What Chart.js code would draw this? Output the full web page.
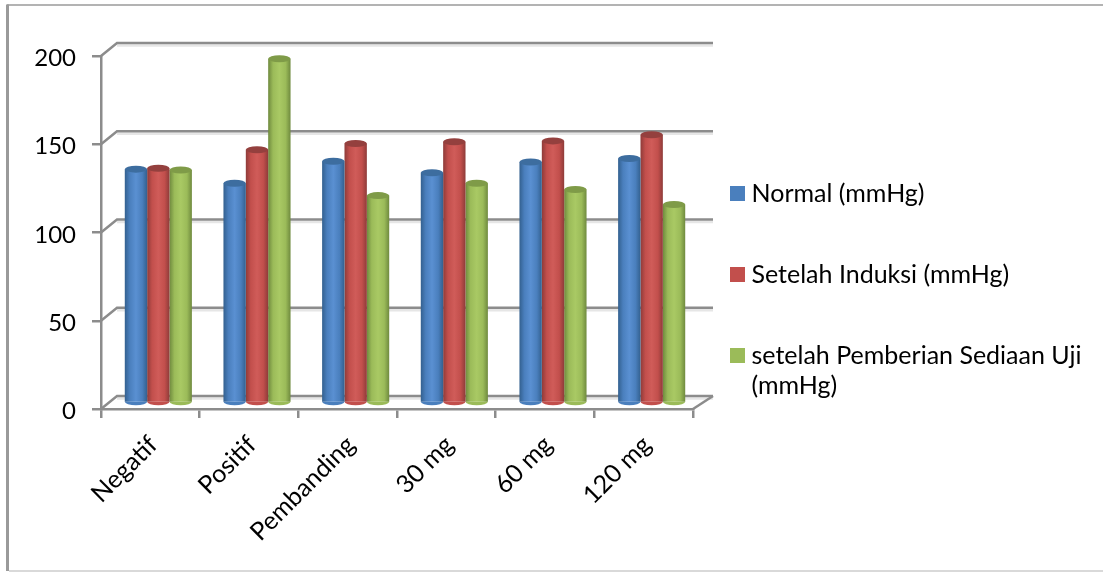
<!DOCTYPE html>
<html>
<head>
<meta charset="utf-8">
<style>
  html, body { margin: 0; padding: 0; background: #fff; }
  canvas { display: block; }
</style>
<script src="https://cdn.jsdelivr.net/npm/chart.js@4"></script>
</head>
<body>
<canvas id="js--chart" width="1103" height="572"></canvas>
<script>
/* data */
const labels = ["Negatif", "Positif", "Pembanding", "30 mg", "60 mg", "120 mg"];
const normal = [132.5, 124.5, 137, 130.5, 136.5, 138.5];
const induksi = [133, 143.5, 147, 148, 148.5, 152];
const sediaan = [132, 195, 117.5, 124.5, 121, 112.5];
const yTicks = [0, 50, 100, 150, 200];

/* kleuren: rand, midden, licht, kap */
const blue = ["#33608f", "#4a7fbd", "#5a90d2", "#3d6d9f"];
const red = ["#8e3b39", "#c24f4c", "#d05c59", "#94403e"];
const green = ["#6f8a3e", "#9bbb59", "#a9c964", "#7f9b48"];
const colors = [blue, red, green];

const barShare = 0.68;
const axisColor = "#8c8c8c";
const fontName = "Lato, 'Noto Sans', sans-serif";

// cilinder gradient per bar
function barFill(c) {
    const chart = c.chart;
    const x = chart.scales.x;
    if (!x || c.dataIndex === undefined) return colors[c.datasetIndex][1];
    const w = (x.width / labels.length) * barShare / 3;
    const mid = x.getPixelForValue(c.dataIndex) + (c.datasetIndex - 1) * w;
    const g = chart.ctx.createLinearGradient(mid - w / 2, 0, mid + w / 2, 0);
    const set = colors[c.datasetIndex];
    g.addColorStop(0, set[0]);
    g.addColorStop(0.22, set[1]);
    g.addColorStop(0.5, set[2]);
    g.addColorStop(0.78, set[1]);
    g.addColorStop(1, set[0]);
    return g;
}

/* achterwand en 3d-diepte */
const wallDepth = { x: 16, y: -13 };
const barDepth = { x: 8, y: -6 };

const wallPlugin = {
    id: "wall",
    beforeLayout(chart) {
        const legend = chart.legend;
        if (legend && !legend.fixedFit) {
            const fit = legend.fit;
            legend.fit = function () {
                fit.call(this);
                this.width = 410;
            };
            legend.fixedFit = true;
        }
    },
    afterLayout(chart) {
        chart.legend.left = 680;
        chart.legend.top = 12;
    },
    beforeDraw(chart) {
        const ctx = chart.ctx;
        ctx.save();
        ctx.strokeStyle = "#9a9a9a";
        ctx.lineWidth = 1.5;
        ctx.beginPath();
        ctx.moveTo(chart.width, 5);
        ctx.lineTo(7, 5);
        ctx.stroke();
        ctx.lineWidth = 3;
        ctx.beginPath();
        ctx.moveTo(7.5, 4.5);
        ctx.lineTo(7.5, 571);
        ctx.stroke();
        ctx.strokeStyle = "#cccccc";
        ctx.lineWidth = 1.5;
        ctx.beginPath();
        ctx.moveTo(9, 571);
        ctx.lineTo(chart.width, 571);
        ctx.stroke();
        ctx.restore();
    },
    beforeDatasetsDraw(chart) {
        const ctx = chart.ctx;
        const area = chart.chartArea;
        const y = chart.scales.y;
        ctx.save();
        ctx.lineWidth = 2.5;
        yTicks.forEach(function (t) {
            const py = y.getPixelForValue(t);
            ctx.strokeStyle = "#e6e6e6";
            ctx.beginPath();
            ctx.moveTo(area.left + wallDepth.x, py + wallDepth.y + 2.5);
            ctx.lineTo(area.right + 20, py + wallDepth.y + 2.5);
            ctx.stroke();
            ctx.strokeStyle = axisColor;
            ctx.beginPath();
            ctx.moveTo(area.left, py);
            ctx.lineTo(area.left + wallDepth.x, py + wallDepth.y);
            ctx.lineTo(area.right + 20, py + wallDepth.y);
            ctx.stroke();
        });
        // rechterkant van de vloer
        const floor = y.getPixelForValue(0);
        ctx.beginPath();
        ctx.moveTo(area.right, floor);
        ctx.lineTo(area.right + 20, floor + wallDepth.y);
        ctx.stroke();
        ctx.restore();

        ctx.save();
        ctx.translate(barDepth.x, barDepth.y);
    },
    beforeDatasetDraw(chart, args) {
        // onderkant van de cilinders
        const ctx = chart.ctx;
        const set = colors[args.index];
        args.meta.data.forEach(function (bar) {
            ctx.fillStyle = set[1];
            ctx.beginPath();
            ctx.ellipse(bar.x, bar.base, bar.width / 2, 3.5, 0, 0, Math.PI);
            ctx.fill();
        });
    },
    afterDatasetDraw(chart, args) {
        // bovenkant van de cilinders
        const ctx = chart.ctx;
        const set = colors[args.index];
        args.meta.data.forEach(function (bar) {
            ctx.fillStyle = set[3];
            ctx.beginPath();
            ctx.ellipse(bar.x, bar.y, bar.width / 2, 3.5, 0, 0, Math.PI * 2);
            ctx.fill();
        });
    },
    afterDatasetsDraw(chart) {
        chart.ctx.restore();
    }
};

const data = {
    labels: labels,
    datasets: [
        { label: "Normal (mmHg)", data: normal, backgroundColor: barFill, clip: false },
        { label: "Setelah Induksi (mmHg)", data: induksi, backgroundColor: barFill, clip: false },
        { label: ["setelah Pemberian Sediaan Uji", "(mmHg)"], data: sediaan, backgroundColor: barFill, clip: false }
    ]
};

const config = {
    type: "bar",
    data: data,
    plugins: [wallPlugin],
    options: {
        responsive: false,
        animation: false,
        events: [],
        layout: { padding: { top: 56, right: 0, bottom: 0, left: 20 } },
        datasets: { bar: { categoryPercentage: barShare, barPercentage: 1 } },
        plugins: {
            tooltip: { enabled: false },
            legend: {
                position: "right",
                labels: {
                    boxWidth: 3,
                    boxHeight: 3,
                    padding: 56,
                    color: "#000",
                    font: { family: fontName, size: 25 },
                    generateLabels() {
                        return data.datasets.map(function (ds, i) {
                            return { text: ds.label, fillStyle: colors[i][1], lineWidth: 12, strokeStyle: colors[i][1], datasetIndex: i };
                        });
                    }
                }
            }
        },
        scales: {
            x: {
                afterFit(scale) { scale.height = 163; },
                border: { color: axisColor, width: 2.5 },
                grid: { drawOnChartArea: false, color: axisColor, lineWidth: 2.5, tickLength: 9 },
                ticks: {
                    color: "#000",
                    font: { family: fontName, size: 25 },
                    minRotation: 45,
                    maxRotation: 45,
                    autoSkip: false,
                    labelOffset: 3,
                    padding: 12
                }
            },
            y: {
                min: 0,
                max: 200,
                afterFit(scale) { scale.width = 81; },
                afterBuildTicks(scale) { scale.ticks = yTicks.map(function (v) { return { value: v }; }); },
                border: { color: axisColor, width: 2.5 },
                grid: { drawOnChartArea: false, color: axisColor, lineWidth: 2.5, tickLength: 9 },
                ticks: {
                    color: "#000",
                    font: { family: fontName, size: 24 },
                    labelOffset: 2.5,
                    padding: 16
                }
            }
        }
    }
};

new Chart(document.getElementById("js--chart"), config);
</script>
</body>
</html>
